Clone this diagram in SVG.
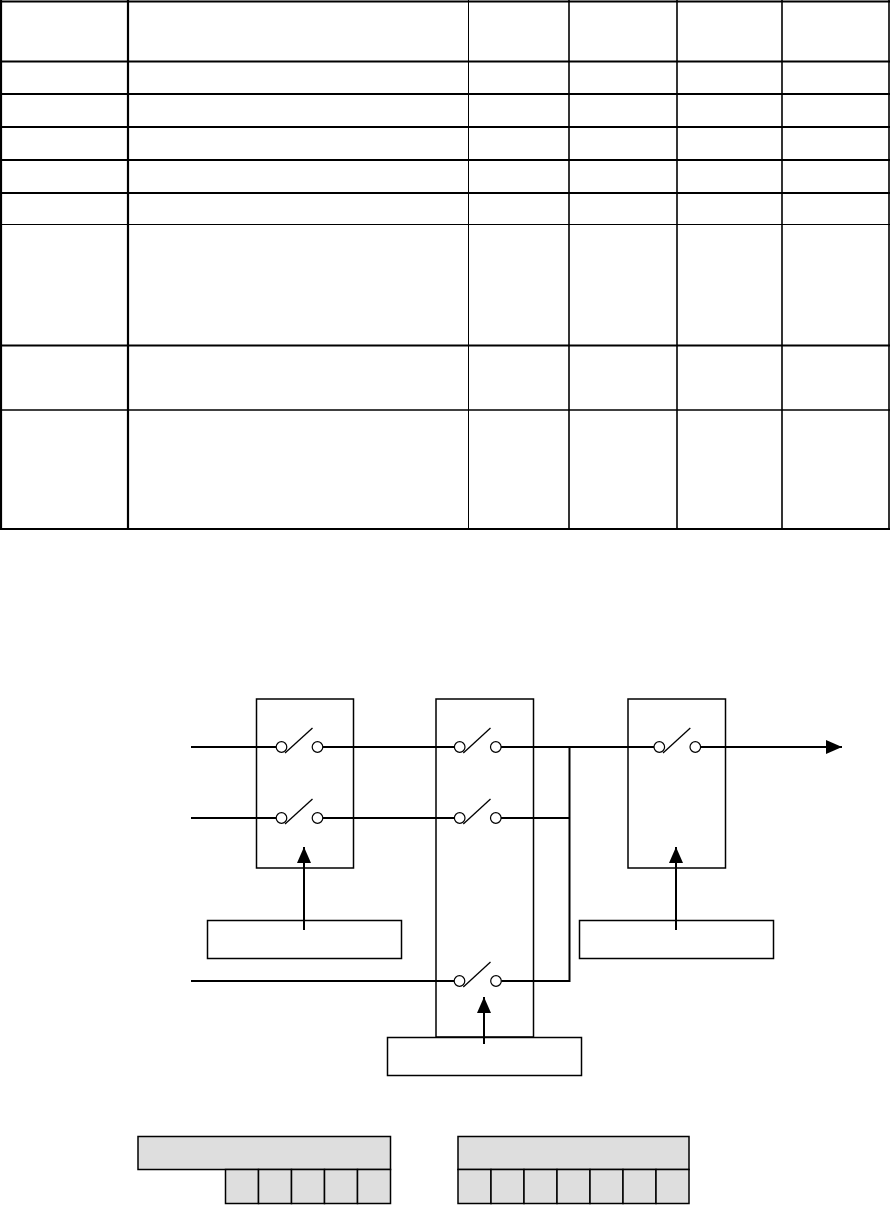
<svg xmlns="http://www.w3.org/2000/svg" width="891" height="1205" viewBox="0 0 891 1205">
<defs>
<style>
.t{stroke:#000;fill:none}
.tk{stroke-width:2.2}
.tn{stroke-width:1}
.tm{stroke-width:1.6}
.box{fill:#fff;stroke:#000;stroke-width:1.5}
.wire{stroke:#000;stroke-width:2;fill:none}
.sw{fill:#fff;stroke:#000;stroke-width:1.2}
.blade{stroke:#000;stroke-width:1.3}
.reg{fill:#dedede;stroke:#000;stroke-width:1.5}
</style>
<marker id="ah" viewBox="0 0 16 14" refX="16" refY="7" markerWidth="16" markerHeight="14" markerUnits="userSpaceOnUse" orient="auto">
<path d="M0,0 L16,7 L0,14 Z" fill="#000"/>
</marker>
</defs>
<rect width="891" height="1205" fill="#fff"/>
<g id="table">
<rect x="0" y="0" width="891" height="1205" fill="none"/>
<line class="t tk" x1="0" y1="1.5" x2="890" y2="1.5"/>
<line class="t tk" x1="0" y1="61.5" x2="890" y2="61.5"/>
<line class="t tk" x1="0" y1="94" x2="890" y2="94"/>
<line class="t tk" x1="0" y1="127" x2="890" y2="127"/>
<line class="t tk" x1="0" y1="160" x2="890" y2="160"/>
<line class="t tk" x1="0" y1="193" x2="890" y2="193"/>
<line class="t tn" x1="0" y1="224.5" x2="890" y2="224.5"/>
<line class="t tk" x1="0" y1="345.5" x2="890" y2="345.5"/>
<line class="t tm" x1="0" y1="410" x2="890" y2="410"/>
<line class="t tk" x1="0" y1="529" x2="890" y2="529"/>
<line class="t tk" x1="1" y1="0" x2="1" y2="530"/>
<line class="t tk" x1="128" y1="0" x2="128" y2="530"/>
<line class="t tn" x1="468.5" y1="0" x2="468.5" y2="530"/>
<line class="t tm" x1="569" y1="0" x2="569" y2="530"/>
<line class="t tm" x1="677" y1="0" x2="677" y2="530"/>
<line class="t tm" x1="782" y1="0" x2="782" y2="530"/>
<line class="t tm" x1="889" y1="0" x2="889" y2="530"/>
</g>
<g id="switchbox1">
<rect class="box" x="256.5" y="699" width="97" height="169"/>
</g>
<g id="switchbox2">
<rect class="box" x="436" y="699" width="97.5" height="338"/>
</g>
<g id="switchbox3">
<rect class="box" x="628" y="699" width="97.5" height="169"/>
</g>
<g id="control1">
<rect class="box" x="207.5" y="920.5" width="194" height="38"/>
</g>
<g id="control2">
<rect class="box" x="387.5" y="1037.5" width="194" height="38"/>
</g>
<g id="control3">
<rect class="box" x="579.5" y="920.5" width="194" height="38"/>
</g>
<g id="connectors">
<polyline class="wire" points="191,747 276,747"/>
<polyline class="wire" points="323,747 454.5,747"/>
<polyline class="wire" points="501,747 654,747"/>
<line class="wire" x1="700.5" y1="747" x2="842" y2="747" marker-end="url(#ah)"/>
<polyline class="wire" points="191,818 276,818"/>
<polyline class="wire" points="323,818 454.5,818"/>
<polyline class="wire" points="501,818 569.5,818"/>
<polyline class="wire" points="191,981 454,981"/>
<polyline class="wire" points="501.3,981 569.5,981 569.5,746"/>
<line class="wire" x1="304" y1="930" x2="304" y2="847" marker-end="url(#ah)"/>
<line class="wire" x1="676" y1="930" x2="676" y2="847" marker-end="url(#ah)"/>
<line class="wire" x1="484" y1="1044" x2="484" y2="997" marker-end="url(#ah)"/>
</g>
<g id="switches">
<circle class="sw" cx="281.5" cy="747" r="5.3"/>
<circle class="sw" cx="317.5" cy="747" r="5.3"/>
<line class="blade" x1="285" y1="753" x2="312.5" y2="728"/>
<circle class="sw" cx="281.5" cy="818" r="5.3"/>
<circle class="sw" cx="317.5" cy="818" r="5.3"/>
<line class="blade" x1="285" y1="824" x2="312.5" y2="799"/>
<circle class="sw" cx="459.7" cy="747" r="5.3"/>
<circle class="sw" cx="495.8" cy="747" r="5.3"/>
<line class="blade" x1="463.3" y1="753" x2="490.5" y2="728"/>
<circle class="sw" cx="459.7" cy="818" r="5.3"/>
<circle class="sw" cx="495.8" cy="818" r="5.3"/>
<line class="blade" x1="463.3" y1="824" x2="490.5" y2="799"/>
<circle class="sw" cx="459.5" cy="981" r="5.3"/>
<circle class="sw" cx="496" cy="981" r="5.3"/>
<line class="blade" x1="463.3" y1="987" x2="490.5" y2="962"/>
<circle class="sw" cx="659.3" cy="747" r="5.3"/>
<circle class="sw" cx="695.3" cy="747" r="5.3"/>
<line class="blade" x1="663" y1="753" x2="690.3" y2="728"/>
</g>
<g id="register1">
<rect class="reg" x="138" y="1136.5" width="252.5" height="33"/>
<rect class="reg" x="225.5" y="1169.5" width="33" height="34"/>
<rect class="reg" x="258.5" y="1169.5" width="33" height="34"/>
<rect class="reg" x="291.5" y="1169.5" width="33" height="34"/>
<rect class="reg" x="324.5" y="1169.5" width="33" height="34"/>
<rect class="reg" x="357.5" y="1169.5" width="33" height="34"/>
</g>
<g id="register2">
<rect class="reg" x="458" y="1136.5" width="231" height="33"/>
<rect class="reg" x="458" y="1169.5" width="33" height="34"/>
<rect class="reg" x="491" y="1169.5" width="33" height="34"/>
<rect class="reg" x="524" y="1169.5" width="33" height="34"/>
<rect class="reg" x="557" y="1169.5" width="33" height="34"/>
<rect class="reg" x="590" y="1169.5" width="33" height="34"/>
<rect class="reg" x="623" y="1169.5" width="33" height="34"/>
<rect class="reg" x="656" y="1169.5" width="33" height="34"/>
</g>
</svg>
